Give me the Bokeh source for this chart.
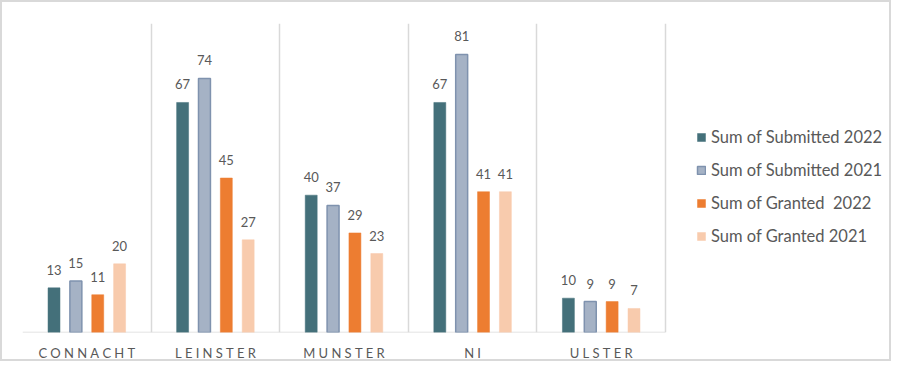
from bokeh.plotting import figure
from bokeh.models import ColumnDataSource, FixedTicker, Legend, LegendItem, LabelSet, Range1d
from bokeh.core.properties import value
from bokeh.embed import file_html
from bokeh.resources import INLINE

categories = ["CONNACHT", "LEINSTER", "MUNSTER", "NI", "ULSTER"]
submitted_2022 = [13, 67, 40, 67, 10]
submitted_2021 = [15, 74, 37, 81, 9]
granted_2022 = [11, 45, 29, 41, 9]
granted_2021 = [20, 27, 23, 41, 7]
series_names = ["Sum of Submitted 2022", "Sum of Submitted 2021",
                "Sum of Granted  2022", "Sum of Granted 2021"]

series = [submitted_2022, submitted_2021, granted_2022, granted_2021]
fills = ["#44707A", "#A5B2C5", "#ED7D31", "#F8CBAD"]
lines = [None, "#7F92AE", None, None]
offsets = [-0.255, -0.085, 0.085, 0.255]
bar_w = 0.093

n = len(categories)
W, H = 891, 361
# plot area for categories is 643px wide; frame is extended to host the legend
frame_w = W - 20 - 10
x_end = n * frame_w / 643.0
p = figure(width=W, height=H, output_backend="svg", toolbar_location=None,
           x_range=Range1d(0, x_end), y_range=Range1d(0, 90),
           min_border_left=20, min_border_right=10, min_border_top=21,
           min_border_bottom=30)
p.styles = {"border": "2px solid #d9d9d9", "box-sizing": "border-box"}
p.outline_line_color = None
p.background_fill_color = "white"

p.yaxis.visible = False
p.ygrid.visible = False
p.xgrid.ticker = FixedTicker(ticks=list(range(n + 1)))
p.xgrid.grid_line_color = "#D9D9D9"
p.xgrid.grid_line_width = 1.5

centers = [i + 0.5 for i in range(n)]
spaced = ["\u2005".join(list(c)) for c in categories]
p.xaxis.ticker = FixedTicker(ticks=centers)
p.xaxis.major_label_overrides = {c: s for c, s in zip(centers, spaced)}
p.xaxis.major_tick_line_color = None
p.xaxis.minor_tick_line_color = None
p.xaxis.axis_line_color = None
p.xaxis.major_label_standoff = 6
p.xaxis.major_label_text_font = "Lato"
p.xaxis.major_label_text_font_size = "13px"
p.xaxis.major_label_text_color = "#595959"

p.segment(x0=[0], y0=[0], x1=[n], y1=[0], line_color="#D9D9D9", line_width=1.5)

items = []
for name, vals, fc, lc, off in zip(series_names, series, fills, lines, offsets):
    src = ColumnDataSource(dict(x=[c + off for c in centers], top=vals,
                                lab=[str(v) for v in vals]))
    r = p.vbar(x="x", top="top", width=bar_w, source=src, fill_color=fc,
               line_color=lc if lc else fc, line_width=1.5 if lc else 0.5)
    p.add_layout(LabelSet(x="x", y="top", text="lab", source=src,
                          text_align="center", text_baseline="alphabetic",
                          y_offset=13, text_font=value("Lato"),
                          text_font_size=value("13px"),
                          text_color=value("#595959")))
    items.append(LegendItem(label=name, renderers=[r]))

legend = Legend(items=items, location=(674, 86), glyph_width=10, glyph_height=10,
                label_height=20, spacing=13, padding=0, margin=0,
                border_line_color=None, background_fill_alpha=0,
                label_text_font="Lato", label_text_font_size="16.5px",
                label_text_color="#595959", label_standoff=5)
p.add_layout(legend, "center")

open("out.html", "w").write(file_html(p, INLINE))
